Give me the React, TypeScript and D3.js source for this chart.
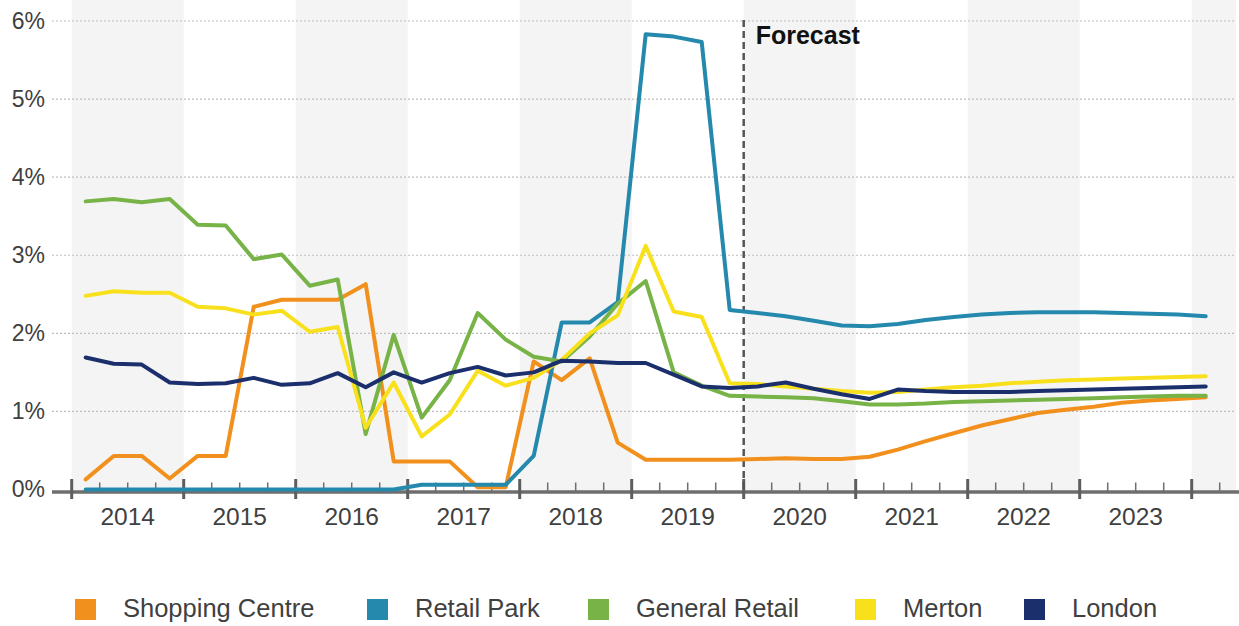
import React from "react";
import * as d3 from "d3";

const seriesNames = ["Shopping Centre", "Retail Park", "General Retail", "Merton", "London"];
const seriesColors = ["#F2901E", "#2489AD", "#77B347", "#F8E11C", "#1B2F6C"];

// quarterly values, 2014 Q1 .. 2024 Q1 (percent)
const shoppingCentre = [
  0.13, 0.43, 0.43, 0.14, 0.43, 0.43, 2.34, 2.43, 2.43, 2.43,
  2.63, 0.36, 0.36, 0.36, 0.03, 0.03, 1.64, 1.40, 1.68, 0.60,
  0.38, 0.38, 0.38, 0.38, 0.39, 0.40, 0.39, 0.39, 0.42, 0.51,
  0.62, 0.72, 0.82, 0.90, 0.98, 1.02, 1.06, 1.11, 1.14, 1.16, 1.18,
];
const retailPark = [
  0, 0, 0, 0, 0, 0, 0, 0, 0, 0,
  0, 0, 0.06, 0.06, 0.06, 0.06, 0.43, 2.14, 2.14, 2.40,
  5.83, 5.80, 5.73, 2.30, 2.26, 2.22, 2.16, 2.10, 2.09, 2.12,
  2.17, 2.21, 2.24, 2.26, 2.27, 2.27, 2.27, 2.26, 2.25, 2.24, 2.22,
];
const generalRetail = [
  3.69, 3.72, 3.68, 3.72, 3.39, 3.38, 2.95, 3.01, 2.61, 2.69,
  0.71, 1.98, 0.92, 1.40, 2.26, 1.92, 1.70, 1.64, 1.96, 2.38,
  2.67, 1.50, 1.33, 1.20, 1.19, 1.18, 1.17, 1.13, 1.09, 1.09,
  1.10, 1.12, 1.13, 1.14, 1.15, 1.16, 1.17, 1.18, 1.19, 1.20, 1.20,
];
const merton = [
  2.48, 2.54, 2.52, 2.52, 2.34, 2.32, 2.24, 2.29, 2.02, 2.08,
  0.79, 1.37, 0.68, 0.96, 1.52, 1.33, 1.43, 1.66, 2.00, 2.23,
  3.12, 2.28, 2.21, 1.36, 1.35, 1.32, 1.29, 1.26, 1.24, 1.25,
  1.28, 1.31, 1.33, 1.36, 1.38, 1.40, 1.41, 1.42, 1.43, 1.44, 1.45,
];
const london = [
  1.69, 1.61, 1.60, 1.37, 1.35, 1.36, 1.43, 1.34, 1.36, 1.49,
  1.31, 1.50, 1.37, 1.49, 1.57, 1.46, 1.50, 1.65, 1.64, 1.62,
  1.62, 1.47, 1.32, 1.30, 1.32, 1.37, 1.29, 1.22, 1.16, 1.28,
  1.26, 1.25, 1.25, 1.25, 1.26, 1.27, 1.28, 1.29, 1.30, 1.31, 1.32,
];

const yearLabels = ["2014", "2015", "2016", "2017", "2018", "2019", "2020", "2021", "2022", "2023"];
const yTicks = [0, 1, 2, 3, 4, 5, 6];
const forecastYear = 2020;
const firstYear = 2014;

const W = 1239;
const H = 626;
const FONT = "'Liberation Sans', Arial, Helvetica, sans-serif";

export default function App() {
  const allSeries = [shoppingCentre, retailPark, generalRetail, merton, london];
  const x = d3.scaleLinear().domain([2014, 2024]).range([71.7, 1191.7]);
  const y = d3.scaleLinear().domain([0, 6]).range([489.5, 21]);
  const right = 1236;
  const axisY = 492;

  const line = d3
    .line<number>()
    .x((_, i) => x(firstYear + (i + 0.5) / 4))
    .y((v) => y(v))
    .curve(d3.curveLinear);

  const bandYears = d3.range(2014, 2025);
  const quarterTicks = d3.range(0, 42).map((q) => firstYear + q / 4).filter((t) => x(t) <= right);
  const majorTicks = bandYears.filter((t) => x(t) <= right);

  const legendX = [75, 367, 588, 855, 1024];

  return (
    <svg width={W} height={H} style={{ position: "absolute", left: 0, top: 0, background: "#fff" }} fontFamily={FONT}>
      {/* alternating year bands */}
      {bandYears.map((yr, k) =>
        k % 2 === 0 ? (
          <rect key={yr} x={x(yr)} y={0} width={Math.min(x(yr + 1), right) - x(yr)} height={axisY - 0} fill="#f4f4f4" />
        ) : null
      )}
      {/* gridlines */}
      {yTicks.filter((t) => t > 0).map((t) => (
        <line key={t} x1={52} x2={right} y1={y(t)} y2={y(t)} stroke="#bdbdbd" strokeWidth={1.2} strokeDasharray="2 2" />
      ))}
      {/* y labels */}
      {yTicks.map((t) => (
        <text key={t} x={45} y={y(t) + 7.5} textAnchor="end" fontSize={23} fill="#404040">
          {t}%
        </text>
      ))}
      {/* axis */}
      <line x1={52} x2={right + 3} y1={axisY} y2={axisY} stroke="#6e6e6e" strokeWidth={3.5} />
      {quarterTicks.map((t) => (
        <line key={"q" + t} x1={x(t)} x2={x(t)} y1={482.5} y2={axisY} stroke="#6e6e6e" strokeWidth={1.5} />
      ))}
      {majorTicks.map((t) => (
        <line key={"m" + t} x1={x(t)} x2={x(t)} y1={479} y2={499} stroke="#5e5e5e" strokeWidth={3} />
      ))}
      {yearLabels.map((lab, k) => (
        <text key={lab} x={x(firstYear + k + 0.5)} y={525} textAnchor="middle" fontSize={24.5} fill="#404040">
          {lab}
        </text>
      ))}
      {/* forecast divider */}
      <line x1={x(forecastYear)} x2={x(forecastYear)} y1={20} y2={axisY} stroke="#555" strokeWidth={2.5} strokeDasharray="7 4" />
      <text x={x(forecastYear) + 12} y={44} fontSize={25} fontWeight="bold" fill="#111">
        Forecast
      </text>
      {/* series lines */}
      {allSeries.map((s, k) => (
        <path key={seriesNames[k]} d={line(s) || ""} fill="none" stroke={seriesColors[k]} strokeWidth={4} strokeLinejoin="round" strokeLinecap="round" />
      ))}
      {/* legend */}
      {seriesNames.map((name, k) => (
        <g key={name} transform={`translate(${legendX[k]},599)`}>
          <rect x={0} y={0} width={21} height={21} fill={seriesColors[k]} />
          <text x={48} y={18} fontSize={25.5} fill="#404040">
            {name}
          </text>
        </g>
      ))}
    </svg>
  );
}
